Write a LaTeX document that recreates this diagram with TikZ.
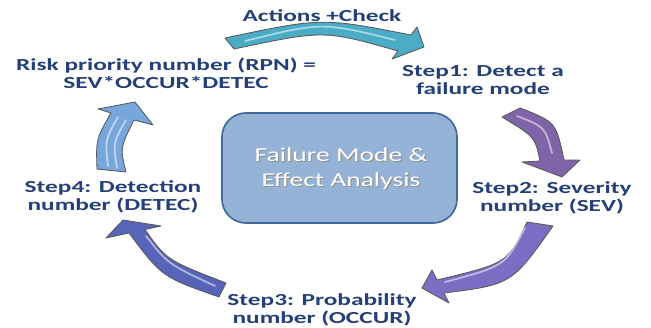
\documentclass[tikz,border=0pt]{standalone}
\usepackage{fontspec}
\setmainfont{Carlito}
\newfontfamily\labelfont{Carlito}[FakeStretch=1.5]
\newfontfamily\boxfont{Carlito}[FakeStretch=1.4]

\definecolor{labelblue}{RGB}{36,64,122}
\definecolor{boxfill}{RGB}{149,179,215}
\definecolor{boxline}{RGB}{65,105,155}
\definecolor{tealarrow}{RGB}{75,172,198}
\definecolor{purplearrow}{RGB}{128,100,170}
\definecolor{lavarrow}{RGB}{122,110,196}
\definecolor{slatearrow}{RGB}{88,100,184}
\definecolor{skyarrow}{RGB}{118,166,220}

% arrow outlines, in pixels of the 651x328 sheet (y down)
\def\toparrow{(225,38) .. controls (322,17.5) .. (411,35) -- (417,27) -- (424,47)
  -- (392,59) -- (398,51) .. controls (324,30) .. (234,49) -- cycle}
\def\rightarrow{(520,108) .. controls (556,122) .. (564,160) -- (580,160) -- (562,177)
  -- (522,162) -- (540,161) .. controls (535,137) .. (502,117) -- cycle}
\def\lowrightarrow{(553,226) .. controls (511.5,284.5) .. (444,293) -- (449,303) -- (422,288)
  -- (432,270) -- (437,280) .. controls (508,263) .. (527,222) -- cycle}
\def\lowleftarrow{(219,297) .. controls (162,277) .. (129,233) -- (106,238) -- (123,220)
  -- (161,226) -- (145,229.5) .. controls (166.5,260) .. (226,283) -- cycle}
\def\leftarrow{(97,169) .. controls (96,139) .. (111,113) -- (98,109) -- (135,102)
  -- (153,125) -- (134,120) .. controls (120,148) .. (126,172) -- cycle}

\tikzset{
  steplabel/.style={font=\labelfont\bfseries\fontsize{12}{13}\selectfont,
    text=labelblue, align=center, inner sep=0pt},
  arrowband/.style={draw=black!65, line width=0.6pt, line join=round},
  gloss/.style={draw=white, opacity=0.55, line width=1.2pt, line cap=round},
  centerbox/.style={draw=boxline, fill=boxfill, line width=1.2pt,
    rounded corners=0.6cm, minimum width=5.875cm, minimum height=2.75cm},
  boxtext/.style={font=\boxfont\fontsize{14}{18}\selectfont, align=center, inner sep=0pt}
}

\begin{document}
\begin{tikzpicture}[x=0.025cm, y=-0.025cm]
  \useasboundingbox (0,0) rectangle (651,328);

  \node[centerbox] (fmea) at (339.5,168) {};
  \node[boxtext, text=black!45] (fmeashadow) at (342,170) {Failure Mode \&\\Effect Analysis};
  \node[boxtext, text=white] (fmeatext) at (341,169) {Failure Mode \&\\Effect Analysis};

  \filldraw[arrowband, fill=tealarrow] \toparrow;
  \filldraw[arrowband, fill=purplearrow] \rightarrow;
  \filldraw[arrowband, fill=lavarrow] \lowrightarrow;
  \filldraw[arrowband, fill=slatearrow] \lowleftarrow;
  \filldraw[arrowband, fill=skyarrow] \leftarrow;

  % glossy streaks
  \draw[gloss] (245,41) .. controls (322,22) .. (395,40);
  \draw[gloss] (517,116) .. controls (545,127) .. (552,153);
  \draw[gloss] (525,228) .. controls (505,266) .. (445,282);
  \draw[gloss] (215,286) .. controls (168,264) .. (146,236);
  \draw[gloss] (108,166) .. controls (105,140) .. (118,117);
  \draw[gloss] (117,168) .. controls (113,143) .. (126,120);

  \node[steplabel] (actions) at (322,16) {Actions +Check};
  \node[steplabel] (rpn) at (166,73) {Risk priority number (RPN) =\\SEV*OCCUR*DETEC};
  \node[steplabel] (step1) at (483,80) {Step1: Detect a\\failure mode};
  \node[steplabel] (step2) at (552,198) {Step2: Severity\\number (SEV)};
  \node[steplabel] (step3) at (322,310) {Step3: Probability\\number (OCCUR)};
  \node[steplabel] (step4) at (113,197) {Step4: Detection\\number (DETEC)};
\end{tikzpicture}
\end{document}
